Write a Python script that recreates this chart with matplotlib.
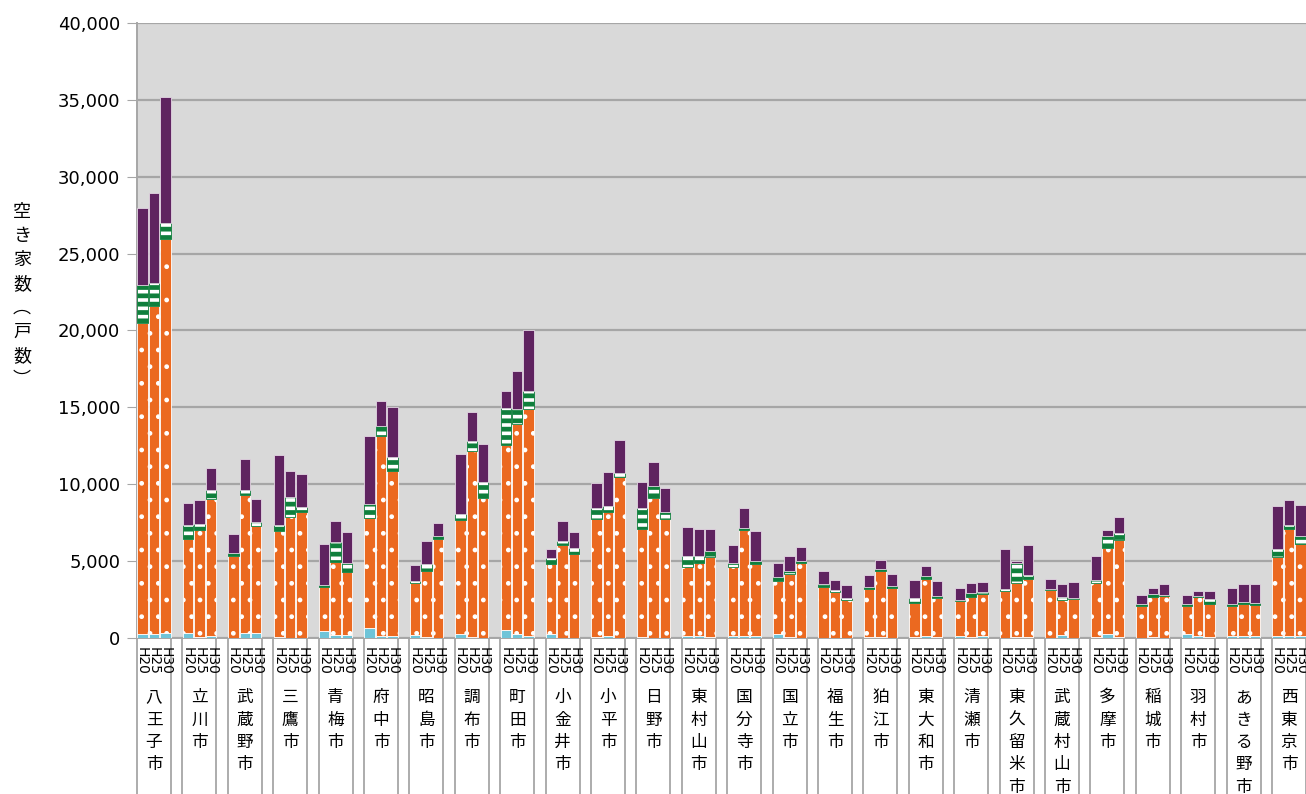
"""Vacant dwellings by type in the Tama cities, H20 / H25 / H30 stacked columns."""
import matplotlib
matplotlib.use("Agg")
import matplotlib.pyplot as plt  # noqa: E402
import matplotlib.transforms as mtrans  # noqa: E402
import numpy as np  # noqa: E402

cities = ["八王子市", "立川市", "武蔵野市", "三鷹市", "青梅市", "府中市", "昭島市", "調布市",
          "町田市", "小金井市", "小平市", "日野市", "東村山市", "国分寺市", "国立市", "福生市",
          "狛江市", "東大和市", "清瀬市", "東久留米市", "武蔵村山市", "多摩市", "稲城市",
          "羽村市", "あきる野市", "西東京市"]
years = ["H20", "H25", "H30"]

# per city: (H20, H25, H30)
secondary = [(260, 260, 300), (350, 50, 130), (30, 350, 350), (40, 20, 10), (430, 170, 170),
             (630, 150, 130), (170, 40, 10), (240, 90, 10), (540, 280, 110), (280, 20, 20),
             (50, 140, 10), (50, 10, 10), (100, 160, 50), (100, 160, 100), (250, 50, 10),
             (10, 10, 10), (50, 50, 10), (50, 140, 50), (100, 50, 100), (10, 50, 50),
             (10, 180, 10), (50, 250, 50), (10, 50, 10), (250, 120, 50), (100, 160, 100),
             (120, 120, 120)]
for_rent = [(20250, 21330, 25680), (6080, 6970, 8890), (5320, 8930, 6930), (6910, 7820, 8160),
            (2870, 4760, 4110), (7170, 13020, 10740), (3410, 4310, 6400), (7450, 12060, 9100),
            (12040, 13670, 14780), (4540, 6060, 5470), (7670, 8060, 10470), (7020, 9100, 7720),
            (4500, 4720, 5220), (4520, 6850, 4740), (3480, 4110, 4870), (3280, 2980, 2480),
            (3150, 4300, 3260), (2240, 3670, 2520), (2280, 2590, 2740), (3020, 3550, 3800),
            (3130, 2310, 2500), (3550, 5610, 6300), (2040, 2610, 2720), (1850, 2520, 2130),
            (1950, 2020, 2060), (5130, 6980, 6020)]
for_sale = [(2430, 1520, 980), (910, 410, 590), (200, 370, 280), (430, 1300, 370), (150, 1330, 610),
            (910, 610, 890), (150, 480, 200), (390, 670, 1040), (2410, 930, 1150), (390, 220, 370),
            (760, 410, 240), (1370, 800, 460), (760, 460, 370), (280, 150, 170), (220, 220, 130),
            (240, 110, 90), (90, 150, 110), (310, 200, 130), (70, 260, 130), (170, 1280, 260),
            (65, 150, 65), (150, 760, 500), (170, 220, 90), (90, 65, 370), (170, 150, 130),
            (520, 280, 500)]
other = [(5000, 5850, 8210), (1410, 1520, 1430), (1240, 1960, 1460), (4540, 1700, 2150),
         (2670, 1350, 2020), (4450, 1650, 3280), (1020, 1500, 870), (3910, 1890, 2500),
         (1090, 2480, 4000), (590, 1300, 1040), (1590, 2170, 2190), (1700, 1560, 1560),
         (1830, 1780, 1480), (1170, 1280, 1960), (960, 930, 930), (850, 700, 850), (830, 590, 800),
         (1190, 650, 1020), (830, 700, 700), (2610, 150, 1960), (650, 850, 1090), (1610, 430, 1020),
         (550, 390, 720), (590, 330, 480), (1000, 1150, 1200), (2820, 1590, 2020)]

plt.rcParams["font.family"] = ["Noto Sans CJK JP", "DejaVu Sans"]
GRID = "#a6a6a6"


def stack(ax, x, h, bottom, face, edge, hatch=None, hlw=1.0):
    with plt.rc_context({"hatch.linewidth": hlw}):
        bars = ax.bar(x, h, 0.92, bottom=bottom, color=face, edgecolor=edge,
                      linewidth=0.6, hatch=hatch, zorder=3)
    for b in bars:
        if hasattr(b, "set_hatch_linewidth"):
            b.set_hatch_linewidth(hlw)
    return bottom + h


fig = plt.figure(figsize=(13.06, 7.94), dpi=100)
ax = fig.add_axes([137 / 1306, 1 - 638 / 794, 1169 / 1306, 615 / 794])
ax.set_facecolor("#d9d9d9")

n = len(cities)
x = (np.arange(n)[:, None] * 4 + np.arange(3)[None, :]).ravel()
bottom = np.zeros(len(x))
bottom = stack(ax, x, np.ravel(secondary), bottom, "#6fc4d8", "white")
bottom = stack(ax, x, np.ravel(for_rent), bottom, "#eb6920", "white", hatch=".", hlw=1.0)
bottom = stack(ax, x, np.ravel(for_sale), bottom, "white", "#0f7f3c", hatch="--", hlw=3.4)
bottom = stack(ax, x, np.ravel(other), bottom, "#5f2360", "#e3d6e3")

ax.set_xlim(-0.5, 4 * n - 1.5)
ax.set_ylim(0, 40000)
ax.set_yticks(np.arange(0, 40001, 5000))
ax.set_yticklabels([f"{v:,}" for v in range(0, 40001, 5000)], fontsize=13, family="DejaVu Sans")
ax.yaxis.grid(True, color=GRID, lw=1.6)
ax.set_axisbelow(True)
ax.tick_params(axis="y", length=7, color=GRID, pad=5)
ax.set_xticks([])
for s in ("top", "right"):
    ax.spines[s].set_visible(False)
for s in ("left", "bottom"):
    ax.spines[s].set_color(GRID)
    ax.spines[s].set_linewidth(1.4)

# multi-level category axis: year row, separators and vertical city names
tr = mtrans.blended_transform_factory(ax.transData, ax.transAxes)
seps = [-0.5] + [4 * k + d for k in range(n) for d in (2.5, 3.5)]
for xs in seps:
    ax.plot([xs, xs], [0, -0.3], transform=tr, clip_on=False, color=GRID, lw=1.3)
for k, name in enumerate(cities):
    ax.text(4 * k + 1, -0.014, "\n".join(years[::-1]), transform=tr, rotation=-90,
            ha="center", va="top", fontsize=10, linespacing=0.82, family="DejaVu Sans")
    ax.text(4 * k + 1, -0.083, "\n".join(name), transform=tr, ha="center", va="top",
            fontsize=12, linespacing=1.42)

fig.text(22 / 1306, 1 - 296 / 794, "\n".join("空き家数︵戸数︶"), ha="center", va="center",
         fontsize=13, linespacing=1.42)

fig.savefig("out.png", dpi=100)
